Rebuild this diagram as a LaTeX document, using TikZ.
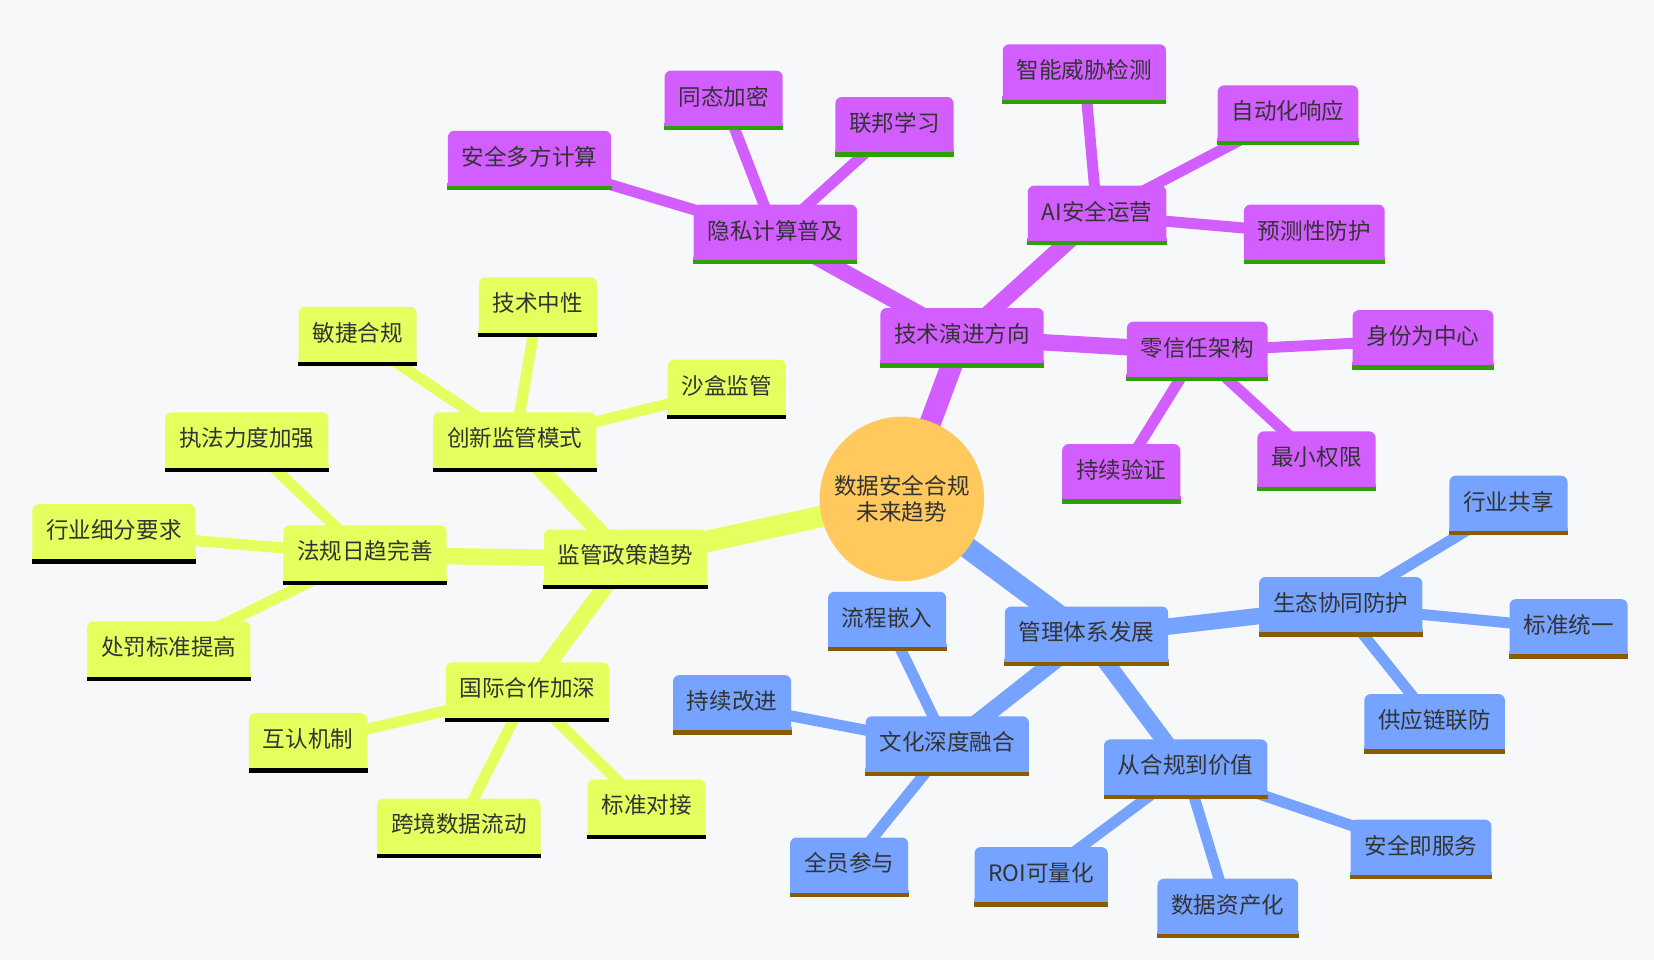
\documentclass[tikz,border=0pt]{standalone}
\usepackage{fontspec}
\newfontfamily\cjk{Noto Sans CJK SC}
\usetikzlibrary{backgrounds}
\definecolor{bgcol}{HTML}{F7F8FA}
\definecolor{txtcol}{HTML}{333333}
\definecolor{rootcol}{HTML}{FFC95E}
\definecolor{pfill}{HTML}{D25EFF}
\definecolor{pbar}{HTML}{2DA100}
\definecolor{yfill}{HTML}{E4FF5E}
\definecolor{ybar}{HTML}{2A14B4}
\definecolor{bfill}{HTML}{75A3FF}
\definecolor{bbar}{HTML}{8A5C00}
% branch box: colour prefix, name, position, text
\newcommand{\mmnode}[4]{%
  \node[topic, fill=#1fill] (#2) at (#3) {#4};
  \fill[#1fill] (#2.south west) rectangle ([shift={(3.5pt,3.5pt)}]#2.south west);
  \fill[#1fill] (#2.south east) rectangle ([shift={(-3.5pt,3.5pt)}]#2.south east);
  \fill[#1bar] (#2.south west) rectangle ([yshift=2pt]#2.south east);
}

\begin{document}
\begin{tikzpicture}[
  x=0.5pt, y=-0.5pt,
  topic/.style={rounded corners=3pt, inner xsep=6.6pt, inner ysep=0pt,
                minimum height=28pt, text height=8pt, text depth=3.4pt,
                text=txtcol, font=\cjk\fontsize{10.7}{12}\selectfont},
  rootnode/.style={circle, fill=rootcol, minimum size=78pt, inner sep=0pt,
                   align=center, text=txtcol,
                   font=\cjk\fontsize{10.7}{12}\selectfont},
  e0/.style={line width=10.2pt},
  e1/.style={line width=7.8pt},
  e2/.style={line width=5.2pt}
]
  \useasboundingbox (0,0) rectangle (1568,910);
  \node[rootnode] (root) at (855,473) {数据安全合规\\未来趋势};

  % technology branch
  \mmnode{p}{tech}{912,320}{技术演进方向}
  \mmnode{p}{priv}{735,222}{隐私计算普及}
  \mmnode{p}{smpc}{502,152}{安全多方计算}
  \mmnode{p}{homo}{686,95}{同态加密}
  \mmnode{p}{fedl}{848,120}{联邦学习}
  \mmnode{p}{aiops}{1040,204}{AI安全运营}
  \mmnode{p}{threat}{1028,70}{智能威胁检测}
  \mmnode{p}{autoresp}{1221,109}{自动化响应}
  \mmnode{p}{predict}{1246,222}{预测性防护}
  \mmnode{p}{zt}{1135,333}{零信任架构}
  \mmnode{p}{ident}{1349,322}{身份为中心}
  \mmnode{p}{contv}{1063,449}{持续验证}
  \mmnode{p}{leastp}{1248,437}{最小权限}

  % regulation branch
  \mmnode{y}{reg}{593,530}{监管政策趋势}
  \mmnode{y}{law}{346,526}{法规日趋完善}
  \mmnode{y}{enforce}{234,419}{执法力度加强}
  \mmnode{y}{industry}{108,506}{行业细分要求}
  \mmnode{y}{penalty}{160,617}{处罚标准提高}
  \mmnode{y}{innov}{488,419}{创新监管模式}
  \mmnode{y}{agile}{339,319}{敏捷合规}
  \mmnode{y}{neutral}{510,291}{技术中性}
  \mmnode{y}{sandbox}{689,369}{沙盒监管}
  \mmnode{y}{intl}{500,656}{国际合作加深}
  \mmnode{y}{mutual}{292,704}{互认机制}
  \mmnode{y}{xborder}{435,785}{跨境数据流动}
  \mmnode{y}{stddock}{613,767}{标准对接}

  % management branch
  \mmnode{b}{mgmt}{1030,603}{管理体系发展}
  \mmnode{b}{eco}{1271,575}{生态协同防护}
  \mmnode{b}{share}{1430,479}{行业共享}
  \mmnode{b}{unify}{1487,596}{标准统一}
  \mmnode{b}{supply}{1360,686}{供应链联防}
  \mmnode{b}{culture}{898,707}{文化深度融合}
  \mmnode{b}{embed}{841,589}{流程嵌入}
  \mmnode{b}{improve}{694,668}{持续改进}
  \mmnode{b}{allin}{805,822}{全员参与}
  \mmnode{b}{value}{1124,729}{从合规到价值}
  \mmnode{b}{roi}{987,831}{ROI可量化}
  \mmnode{b}{asset}{1164,861}{数据资产化}
  \mmnode{b}{saas}{1347,805}{安全即服务}

  \begin{scope}[on background layer]
    \fill[bgcol] (0,0) rectangle (1568,910);
    \draw[e0, pfill] (root.center) -- (tech.center);
    \draw[e1, pfill] (tech.center) -- (priv.center);
    \draw[e1, pfill] (tech.center) -- (aiops.center);
    \draw[e1, pfill] (tech.center) -- (zt.center);
    \foreach \leaf in {smpc, homo, fedl}
      \draw[e2, pfill] (priv.center) -- (\leaf.center);
    \foreach \leaf in {threat, autoresp, predict}
      \draw[e2, pfill] (aiops.center) -- (\leaf.center);
    \foreach \leaf in {ident, contv, leastp}
      \draw[e2, pfill] (zt.center) -- (\leaf.center);

    \draw[e0, yfill] (root.center) -- (reg.center);
    \draw[e1, yfill] (reg.center) -- (law.center);
    \draw[e1, yfill] (reg.center) -- (innov.center);
    \draw[e1, yfill] (reg.center) -- (intl.center);
    \foreach \leaf in {enforce, industry, penalty}
      \draw[e2, yfill] (law.center) -- (\leaf.center);
    \foreach \leaf in {agile, neutral, sandbox}
      \draw[e2, yfill] (innov.center) -- (\leaf.center);
    \foreach \leaf in {mutual, xborder, stddock}
      \draw[e2, yfill] (intl.center) -- (\leaf.center);

    \draw[e0, bfill] (root.center) -- (mgmt.center);
    \draw[e1, bfill] (mgmt.center) -- (eco.center);
    \draw[e1, bfill] (mgmt.center) -- (culture.center);
    \draw[e1, bfill] (mgmt.center) -- (value.center);
    \foreach \leaf in {share, unify, supply}
      \draw[e2, bfill] (eco.center) -- (\leaf.center);
    \foreach \leaf in {embed, improve, allin}
      \draw[e2, bfill] (culture.center) -- (\leaf.center);
    \foreach \leaf in {roi, asset, saas}
      \draw[e2, bfill] (value.center) -- (\leaf.center);
  \end{scope}
\end{tikzpicture}
\end{document}
